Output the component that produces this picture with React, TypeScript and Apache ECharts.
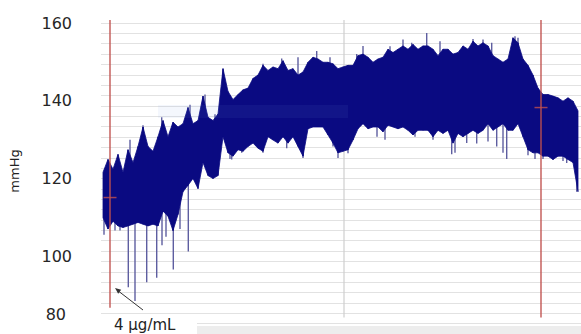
import React, { useEffect, useRef } from "react";
import * as echarts from "echarts";

// Pressure envelope, one sample per time unit (upper / lower edge of the waveform, mmHg)
const upperEnvelope = [
  121.6, 124.9, 122.4, 126.2, 121.6, 127.4, 124.1, 128.25, 133.25, 128.25,
  127, 130.75, 134.9, 130.75, 134.5, 133.25, 134.1, 138.25, 134.1, 134.9,
  141.2, 135.75, 134.9, 136.6, 148.25, 142.4, 140.3, 141.6, 142.8, 143.25,
  145.75, 146.6, 149.1, 147.8, 148.7, 148.25, 150.3, 147.8, 148.25, 146.6,
  147.4, 149.9, 151.2, 150.75, 149.9, 149.9, 149.5, 148.25, 148.7, 149.1,
  149.1, 151.6, 152, 151.2, 149.9, 150.75, 151.2, 153.25, 152.4, 153.25,
  154.1, 153.25, 154.5, 153.25, 154.1, 154.1, 153.25, 151.6, 153.25, 153.25,
  152, 152.4, 154.1, 153.25, 155.3, 154.1, 154.9, 154.1, 151.6, 150.75,
  149.9, 150.75, 156.2, 154.9, 150.75, 149.1, 146.6, 143.25, 141.6, 141.6,
  141.2, 140.75, 139.9, 140.75, 139.9, 137.4,
];
const lowerEnvelope = [
  109.9, 107, 109, 107.8, 107.4, 107.8, 108.25, 108.7, 108.25, 107.8,
  108.25, 107.8, 111.6, 110.3, 106.6, 110.75, 116.6, 118.25, 120, 117.4,
  124.1, 120.75, 120, 120.75, 130.75, 126.6, 125.75, 127.4, 127, 128.25,
  129.1, 127.8, 127, 130.75, 129.9, 129.1, 130.75, 129.1, 130.75, 128.25,
  125.75, 132.8, 133.25, 133.25, 133.25, 131.2, 129.1, 126.6, 127, 127.4,
  129.9, 132.8, 134.1, 132.8, 133.25, 133.25, 132, 133.7, 133.25, 132.8,
  133.25, 132.4, 131.2, 132.4, 132.4, 132.4, 130.75, 132.4, 131.6, 132.4,
  129.1, 131.6, 130.75, 131.6, 132.4, 131.6, 132.4, 134.1, 132.4, 133.25,
  134.1, 132.4, 132.4, 134.1, 130.75, 127.4, 126.6, 126.6, 125.75, 125.75,
  124.9, 125.75, 125.75, 124.9, 124.1, 116.6,
];

// Isolated beats reaching beyond the envelope: [time, low, high]
const downSpikes = [
  [0.2, 105.5, 112], [2.4, 106.6, 112], [3.4, 106.6, 112], [5.06, 92, 112],
  [6.4, 88.5, 112], [8.74, 93.3, 112], [10.74, 94.5, 112], [11.8, 102.8, 115],
  [12.6, 105, 115], [14.06, 96.6, 115], [15.4, 107, 115], [17.06, 101.25, 122],
  [25.4, 125, 132], [25.74, 124.9, 130], [27.74, 126.6, 131], [32, 126.6, 132],
  [36.74, 127.8, 132], [40, 125.3, 132], [46, 128.25, 132], [47, 125.3, 132],
  [49, 126.5, 132], [54.8, 130.75, 136], [56.4, 130, 136], [62.4, 130.75, 136],
  [66, 130, 136], [69.74, 126.25, 134], [70.4, 126.6, 134], [72.74, 129.1, 134],
  [74.74, 129, 136], [77, 129.5, 136], [78.74, 128.25, 136], [80, 126.6, 136],
  [80.74, 125, 136], [85, 126, 130], [86.4, 125, 130], [88, 125, 130],
  [90, 124.9, 130], [92, 124.5, 130], [92.74, 124, 130], [94.74, 116.6, 128],
];
const upSpikes = [
  [5.4, 124, 130], [8, 128, 133.7], [11.74, 128, 135.75], [17.4, 132, 139],
  [20.4, 136, 141.6], [22.4, 132, 136.5], [32, 145, 149.5], [35.74, 145, 150.9],
  [39, 145, 151.2], [42.74, 148, 152.8], [45.4, 147, 151.2], [50.74, 148, 152],
  [52, 150, 154.1], [57.4, 150, 154], [60, 152, 155.75], [61.74, 152, 154.9],
  [64.74, 152, 157.4], [67.4, 152, 155.3], [74, 153, 155.9], [76, 152, 155.75],
  [77.74, 151, 154.9], [82.4, 154, 156.6], [83, 153, 156.2],
];

// Event lines (red), reference line (gray), and event markers
const eventLines = [
  [1.4, 160.75, 86.75],
  [87.6, 160.75, 84.25],
];
const referenceLines = [[48.2, 160.75, 84.25]];
const eventMarkers = [
  [1.4, 115.1],
  [87.6, 138.25],
];

const yMin = 80;
const yMax = 160;
const yStep = 20;
const gridLineCount = 30;
const annotationText = "4 μg/mL";
const yAxisTitle = "mmHg";

const NAVY = "#0a0a82";
const SPIKE = "#5e5ea0";
const RED = "#c0504d";
const FONT = '"DejaVu Sans", sans-serif';

function vline(color: string, width: number) {
  return (params: any, api: any) => {
    const a = api.coord([api.value(0), api.value(1)]);
    const b = api.coord([api.value(0), api.value(2)]);
    return {
      type: "line",
      shape: { x1: a[0], y1: a[1], x2: b[0], y2: b[1] },
      style: { stroke: color, lineWidth: width },
    };
  };
}

export default function App() {
  const ref = useRef<HTMLDivElement>(null);
  useEffect(() => {
    if (!ref.current) return;
    const chart = echarts.init(ref.current, undefined, { renderer: "svg" });
    const times = upperEnvelope.map((_, i) => i);
    // [t, low, high, nextT, nextLow, nextHigh]
    const bodyData = times.slice(0, -1).map((t, i) => [
      t,
      lowerEnvelope[i],
      upperEnvelope[i],
      times[i + 1],
      lowerEnvelope[i + 1],
      upperEnvelope[i + 1],
    ]);

    chart.setOption({
      animation: false,
      backgroundColor: "#ffffff",
      grid: { left: 101, right: 0, top: 23, height: 320, containLabel: false },
      xAxis: { type: "value", min: -0.4, max: 95.6, show: false },
      yAxis: [
        {
          type: "value",
          min: yMin,
          max: yMax,
          interval: yStep,
          axisLine: { show: false },
          axisTick: { show: false },
          splitLine: { show: false },
          axisLabel: {
            margin: 29,
            fontFamily: FONT,
            fontSize: 16,
            color: "#262626",
            formatter: (v: number) => (v === yMin ? `{low|${v}}` : String(v)),
            rich: {
              low: {
                fontFamily: FONT,
                fontSize: 16,
                color: "#262626",
                padding: [0, 6, 40, 0],
              },
            },
          },
        },
        {
          type: "value",
          min: 0,
          max: gridLineCount,
          interval: 1,
          axisLine: { show: false },
          axisTick: { show: false },
          axisLabel: { show: false },
          splitLine: { show: true, lineStyle: { color: "#e2e2e2", width: 1 } },
        },
      ],
      series: [
        {
          type: "custom",
          name: "reference",
          renderItem: vline("#cfcfcf", 1.2),
          data: referenceLines,
          encode: { x: 0, y: [1, 2] },
          clip: false,
          z: 1,
        },
        {
          type: "custom",
          name: "spikesDown",
          renderItem: vline(SPIKE, 1.4),
          data: downSpikes,
          encode: { x: 0, y: [1, 2] },
          z: 2,
        },
        {
          type: "custom",
          name: "spikesUp",
          renderItem: vline(SPIKE, 1.4),
          data: upSpikes,
          encode: { x: 0, y: [1, 2] },
          z: 2,
        },
        {
          type: "custom",
          name: "pressure",
          data: bodyData,
          encode: { x: [0, 3], y: [1, 2, 4, 5] },
          renderItem: (params: any, api: any) => {
            const p1 = api.coord([api.value(0), api.value(2)]);
            const p2 = api.coord([api.value(3), api.value(5)]);
            const p3 = api.coord([api.value(3), api.value(4)]);
            const p4 = api.coord([api.value(0), api.value(1)]);
            return {
              type: "polygon",
              shape: { points: [p1, p2, p3, p4] },
              style: { fill: NAVY, stroke: NAVY, lineWidth: 0.8 },
            };
          },
          z: 3,
        },
        {
          type: "custom",
          name: "events",
          renderItem: vline("rgba(192,80,77,0.85)", 1.6),
          data: eventLines,
          encode: { x: 0, y: [1, 2] },
          clip: false,
          z: 5,
        },
        {
          type: "scatter",
          name: "markers",
          data: eventMarkers,
          symbol: "rect",
          symbolSize: [13, 1.5],
          itemStyle: { color: RED },
          z: 6,
        },
      ],
      graphic: [
        {
          type: "rect",
          z: 100,
          shape: { x: 158, y: 105, width: 190, height: 13 },
          style: { fill: "rgba(120,150,235,0.08)" },
        },
        {
          type: "rect",
          z: 100,
          shape: { x: 197, y: 326, width: 384, height: 8 },
          style: { fill: "#ededed" },
        },
        {
          type: "rect",
          z: 100,
          shape: { x: 101, y: 317, width: 96, height: 17 },
          style: { fill: "#ffffff" },
        },
        {
          type: "text",
          z: 101,
          x: 114,
          y: 325,
          style: {
            text: annotationText,
            font: `15px ${FONT}`,
            fill: "#222222",
            align: "left",
            verticalAlign: "middle",
          },
        },
        {
          type: "line",
          z: 101,
          shape: { x1: 143, y1: 310, x2: 117, y2: 290 },
          style: { stroke: "#333333", lineWidth: 1 },
        },
        {
          type: "polygon",
          z: 101,
          shape: { points: [[115, 288], [118.2, 293.7], [121.2, 289.7]] },
          style: { fill: "#333333" },
        },
        {
          type: "text",
          z: 101,
          x: 14,
          y: 171,
          rotation: Math.PI / 2,
          style: {
            text: yAxisTitle,
            font: `13px ${FONT}`,
            fill: "#222222",
            align: "center",
            verticalAlign: "middle",
          },
        },
      ],
    });
    return () => chart.dispose();
  }, []);
  return (
    <div
      ref={ref}
      style={{ position: "fixed", left: 0, top: 0, width: 581, height: 334 }}
    />
  );
}
